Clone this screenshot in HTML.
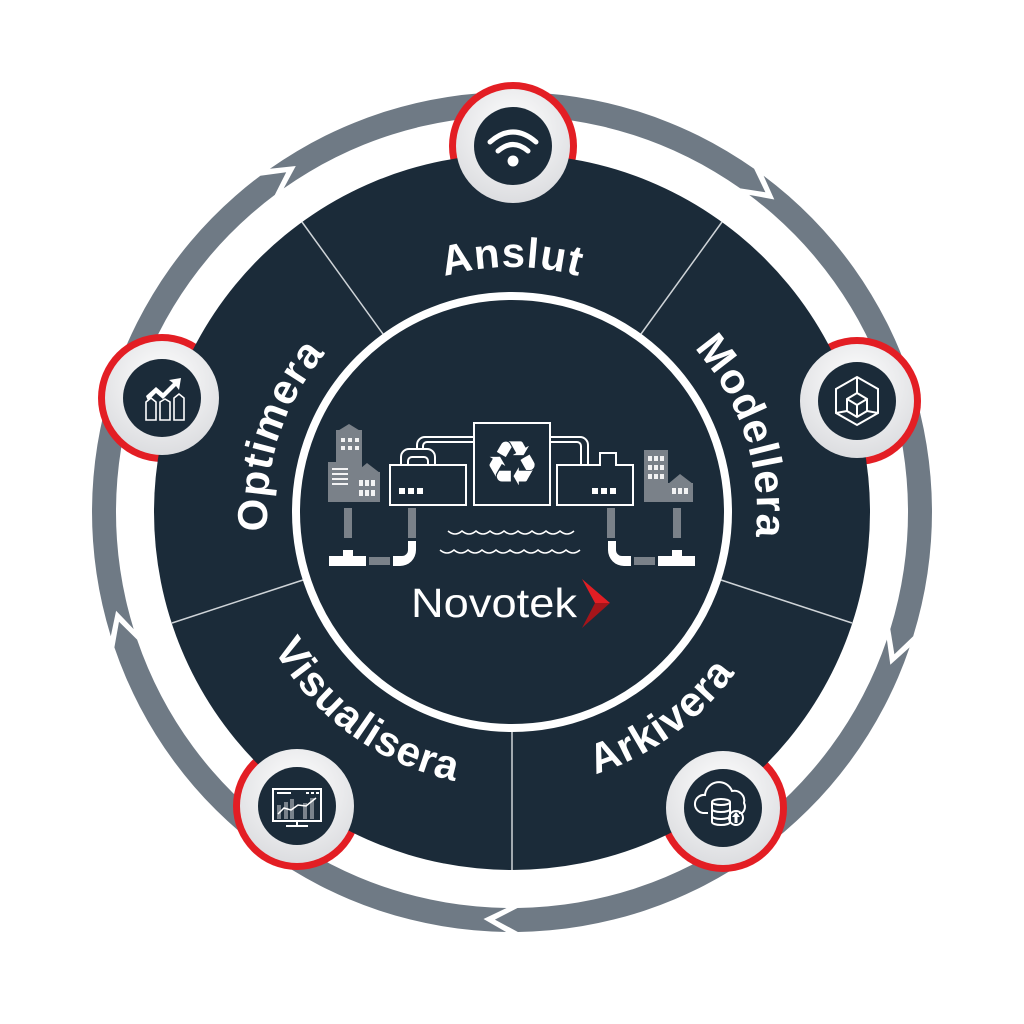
<!DOCTYPE html>
<html><head><meta charset="utf-8"><style>
html,body{margin:0;padding:0;background:#fff;width:1024px;height:1024px;overflow:hidden}
svg{display:block}
.lbl{font-family:"Liberation Sans",sans-serif;font-weight:bold;font-size:42px;fill:#fff;letter-spacing:1px}
</style></head><body>
<svg id="s" width="1024" height="1024" viewBox="0 0 1024 1024" xmlns="http://www.w3.org/2000/svg">
<defs>
<radialGradient id="wg" cx="50%" cy="35%" r="65%"><stop offset="0" stop-color="#ffffff"/><stop offset="1" stop-color="#dcdde0"/></radialGradient>
<path id="pA" d="M299.8 389.5 A245 245 0 0 1 724.2 389.5"/>
<path id="pM" d="M562.9 272.4 A245 245 0 0 1 694.1 675.9"/>
<path id="pO" d="M329.9 675.9 A245 245 0 0 1 461.1 272.4"/>
<path id="pK" d="M400.2 763.2 A275 275 0 0 0 785.5 483.3"/>
<path id="pV" d="M238.5 483.3 A275 275 0 0 0 623.8 763.2"/>
</defs>
<g id="ring" fill="#6f7a85"></g>
<g fill="#e31e24">
<circle cx="513" cy="146" r="64"/><circle cx="857" cy="401" r="64"/><circle cx="723" cy="808" r="64"/><circle cx="297" cy="806" r="64"/><circle cx="162" cy="398" r="64"/>
</g>
<circle cx="512" cy="512" r="358" fill="#1b2b39"/>
<g stroke="#cfd4d8" stroke-width="1.5">
<line x1="641" y1="334" x2="722" y2="222"/>
<line x1="383" y1="334" x2="302" y2="222"/>
<line x1="303" y1="580" x2="172" y2="623"/>
<line x1="721" y1="580" x2="852" y2="623"/>
<line x1="512" y1="732" x2="512" y2="870"/>
</g>
<circle cx="512" cy="512" r="216" fill="#1b2b39" stroke="#fff" stroke-width="8"/>
<g fill="url(#wg)">
<circle cx="513" cy="146" r="57"/><circle cx="857" cy="401" r="57"/><circle cx="723" cy="808" r="57"/><circle cx="297" cy="806" r="57"/><circle cx="162" cy="398" r="57"/>
</g>
<g fill="#1b2b39">
<circle cx="513" cy="146" r="39"/><circle cx="857" cy="401" r="39"/><circle cx="723" cy="808" r="39"/><circle cx="297" cy="806" r="39"/><circle cx="162" cy="398" r="39"/>
</g>
<g fill="none" stroke="#fff" stroke-width="5" stroke-linecap="round">
<path d="M490 142 Q513 122 536 142"/><path d="M498 151 Q513 138 528 151"/>
</g>
<circle cx="513" cy="161" r="5.5" fill="#fff"/>
<g fill="none" stroke="#fff" stroke-width="2">
<polygon points="857,377 878,389 878,413 857,425 836,413 836,389"/>
<polygon points="857,393 867,399 867,411 857,417 847,411 847,399"/>
<polyline points="847,399 857,405 867,399"/><line x1="857" y1="405" x2="857" y2="417"/>
<line x1="857" y1="377" x2="857" y2="393"/><line x1="836" y1="413" x2="847" y2="411"/><line x1="878" y1="413" x2="867" y2="411"/>
</g>
<g fill="none" stroke="#fff" stroke-width="2">
<path d="M708 813 h-5 a9 9 0 0 1 2 -18 a14 14 0 0 1 27 -4 a10 10 0 0 1 12 12 a8 8 0 0 1 -2 10 h-3"/>
<ellipse cx="721" cy="802" rx="9" ry="3"/><path d="M712 802 v20 a9 3 0 0 0 18 0 v-20 M712 809 a9 3 0 0 0 18 0 M712 816 a9 3 0 0 0 18 0"/>
<circle cx="736" cy="818" r="7"/>
</g>
<path d="M736 812 l4 5 h-2.5 v6 h-3 v-6 h-2.5z" fill="#fff"/>
<g fill="none" stroke="#fff" stroke-width="2"><rect x="273" y="789" width="48" height="32"/><line x1="297" y1="821" x2="297" y2="826"/><line x1="286" y1="826" x2="308" y2="826"/></g>
<g fill="#7a838c"><rect x="277" y="805" width="4" height="14"/><rect x="284" y="802" width="4" height="17"/><rect x="290" y="799" width="4" height="20"/><rect x="303" y="803" width="4" height="16"/><rect x="310" y="798" width="4" height="21"/></g>
<polyline points="278,814 284,808 291,810 298,805 306,806 316,798" fill="none" stroke="#fff" stroke-width="1.5"/>
<g fill="#fff"><rect x="277" y="792" width="14" height="2"/><rect x="306" y="792" width="3" height="2"/><rect x="311" y="792" width="3" height="2"/><rect x="316" y="792" width="3" height="2"/></g>
<g fill="none" stroke="#fff" stroke-width="1.6"><path d="M146 402 l5 -4 l5 4 v18 h-10z"/><path d="M160 402 l5 -3 l5 3 v18 h-10z"/><path d="M174 398 l5 -4 l5 4 v22 h-10z"/></g>
<path d="M146 396 l10 -9 l7 6 l10 -10 l-4 -3 l12 -2 l-2 12 l-3 -4 l-13 13 l-7 -6 l-8 8z" fill="#fff"/>
<text class="lbl"><textPath href="#pA" startOffset="50%" text-anchor="middle">Anslut</textPath></text>
<text class="lbl"><textPath href="#pM" startOffset="50%" text-anchor="middle">Modellera</textPath></text>
<text class="lbl"><textPath href="#pO" startOffset="50%" text-anchor="middle">Optimera</textPath></text>
<text class="lbl"><textPath href="#pK" startOffset="50%" text-anchor="middle">Arkivera</textPath></text>
<text class="lbl"><textPath href="#pV" startOffset="50%" text-anchor="middle">Visualisera</textPath></text>
<g fill="#7a8189">
<rect x="336" y="430" width="26" height="72"/><polygon points="336,432 349,424 362,432"/>
<rect x="328" y="462" width="24" height="40"/>
<rect x="355" y="472" width="25" height="30"/><polygon points="355,473 367,463 380,473"/>
<rect x="644" y="450" width="24" height="52"/>
<rect x="668" y="483" width="25" height="19"/><polygon points="668,484 680,474 693,484"/>
<rect x="344" y="508" width="8" height="30"/><rect x="408" y="508" width="8" height="30"/>
<rect x="607" y="508" width="8" height="30"/><rect x="673" y="508" width="8" height="30"/>
<rect x="369" y="557" width="21" height="8"/><rect x="634" y="557" width="21" height="8"/>
</g>
<g fill="#fff" opacity=".9">
<rect x="341" y="438" width="4" height="4"/><rect x="348" y="438" width="4" height="4"/><rect x="355" y="438" width="4" height="4"/>
<rect x="341" y="446" width="4" height="4"/><rect x="348" y="446" width="4" height="4"/><rect x="355" y="446" width="4" height="4"/>
<rect x="332" y="468" width="16" height="2"/><rect x="332" y="473" width="16" height="2"/><rect x="332" y="478" width="16" height="2"/><rect x="332" y="483" width="16" height="2"/>
<rect x="359" y="480" width="4" height="6"/><rect x="365" y="480" width="4" height="6"/><rect x="371" y="480" width="4" height="6"/><rect x="359" y="490" width="4" height="6"/><rect x="365" y="490" width="4" height="6"/><rect x="371" y="490" width="4" height="6"/>
<rect x="648" y="456" width="4" height="5"/><rect x="654" y="456" width="4" height="5"/><rect x="660" y="456" width="4" height="5"/>
<rect x="648" y="465" width="4" height="5"/><rect x="654" y="465" width="4" height="5"/><rect x="660" y="465" width="4" height="5"/>
<rect x="648" y="474" width="4" height="5"/><rect x="654" y="474" width="4" height="5"/><rect x="660" y="474" width="4" height="5"/>
<rect x="672" y="488" width="4" height="6"/><rect x="678" y="488" width="4" height="6"/><rect x="684" y="488" width="4" height="6"/>
</g>
<g fill="none" stroke="#fff" stroke-width="2">
<rect x="390" y="465" width="76" height="40"/>
<rect x="474" y="423" width="76" height="82"/>
<path d="M557 505 V465 h43 v-12 h16 v12 h17 v40z"/>
<path d="M401 465 v-8 a8 8 0 0 1 8 -8 h18 a8 8 0 0 1 8 8 v8"/>
<path d="M408 465 v-4 a4 4 0 0 1 4 -4 h12 a4 4 0 0 1 4 4 v4"/>
<path d="M417 449 v-4 a8 8 0 0 1 8 -8 h49 M423 449 v-3 a4 4 0 0 1 4 -4 h47"/>
<path d="M550 437 h30 a8 8 0 0 1 8 8 v20 M550 442 h27 a4 4 0 0 1 4 4 v19"/>
</g>
<g fill="#fff">
<rect x="399" y="488" width="6" height="6"/><rect x="408" y="488" width="6" height="6"/><rect x="417" y="488" width="6" height="6"/>
<rect x="592" y="488" width="6" height="6"/><rect x="601" y="488" width="6" height="6"/><rect x="610" y="488" width="6" height="6"/>
<path d="M329 556 h14 v-6 h10 v6 h13 v10 h-37z"/>
<path d="M393 556 h9 a6 6 0 0 0 6 -6 v-9 h8 v9 a16 16 0 0 1 -16 16 h-7z"/>
<path d="M658 556 h14 v-6 h10 v6 h13 v10 h-37z"/>
<path d="M631 556 h-9 a6 6 0 0 1 -6 -6 v-9 h-8 v9 a16 16 0 0 0 16 16 h7z"/>
</g>
<text x="512" y="485" text-anchor="middle" font-family="DejaVu Sans,sans-serif" fill="#fff" font-size="62">♻</text>
<g fill="none" stroke="#fff" stroke-width="1.5">
<path d="M448 531 q7 6 14 0 q7 6 14 0 q7 6 14 0 q7 6 14 0 q7 6 14 0 q7 6 14 0 q7 6 14 0 q7 6 14 0 q7 6 14 0"/>
<path d="M440 550 q7 6 14 0 q7 6 14 0 q7 6 14 0 q7 6 14 0 q7 6 14 0 q7 6 14 0 q7 6 14 0 q7 6 14 0 q7 6 14 0 q7 6 14 0"/>
</g>
<text x="411" y="617" font-family="Liberation Sans,sans-serif" font-size="41" fill="#fff" textLength="166" lengthAdjust="spacingAndGlyphs">Novotek</text>
<polygon points="582,579 610,603 595,603" fill="#e31e24"/>
<polygon points="582,628 610,603 595,603" fill="#a5151a"/>
</svg>
<script>
(function(){
var g=document.getElementById('ring'),cx=512,cy=512,ro=420,ri=396,rm=408;
function P(r,a){a=a*Math.PI/180;return (cx+r*Math.cos(a)).toFixed(1)+' '+(cy-r*Math.sin(a)).toFixed(1);}
var b=[54,-18,-90,-162,-234];
var h='',t=3.2;
for(var i=0;i<5;i++){
 var s=b[i]-0.8, e=b[i]-72+0.8;
 var d='M'+P(ro,s)+' A'+ro+' '+ro+' 0 0 1 '+P(ro,e)+' L'+P(rm,e-t)+' L'+P(ri,e)+' A'+ri+' '+ri+' 0 0 0 '+P(ri,s)+' L'+P(rm,s-t)+' Z';
 h+='<path d="'+d+'"/>';
}
g.innerHTML=h;
})();
</script>
</body></html>
